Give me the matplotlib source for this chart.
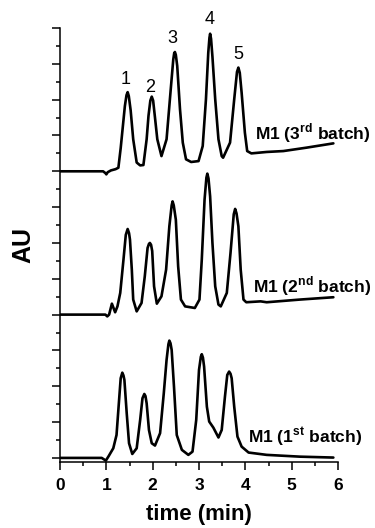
import matplotlib
matplotlib.use("Agg")
import matplotlib.pyplot as plt
from matplotlib.ticker import MultipleLocator

plt.rcParams['font.family'] = ['Liberation Sans', 'DejaVu Sans']
plt.rcParams['mathtext.fontset'] = 'custom'
plt.rcParams['mathtext.rm'] = 'Liberation Sans'
plt.rcParams['mathtext.bf'] = 'Liberation Sans:bold'

# ---- data (time in min, absorbance above each trace's own baseline) ----
t_b3 = [0, 0.93, 0.98, 1.0, 1.03, 1.1, 1.2, 1.26, 1.31, 1.36, 1.40, 1.435, 1.46, 1.485, 1.525,
        1.58, 1.655, 1.73, 1.80, 1.87, 1.91, 1.95, 1.98, 2.01, 2.05, 2.10, 2.19, 2.30, 2.39,
        2.445, 2.465, 2.48, 2.50, 2.53, 2.59, 2.65, 2.72, 2.83, 2.99, 3.08, 3.15, 3.20, 3.225,
        3.24, 3.26, 3.29, 3.35, 3.42, 3.49, 3.52, 3.67, 3.76, 3.82, 3.85, 3.88, 3.92, 3.99,
        4.04, 4.13, 4.46, 4.82, 5.32, 5.9]
a_b3 = [0, 0, -0.1, -0.17, -0.05, 0.05, 0.12, 0.2, 1.3, 2.6, 3.64, 4.25, 4.42, 4.2, 3.4,
        1.79, 0.49, 0.33, 0.35, 1.79, 3.1, 3.95, 4.17, 3.95, 3.0, 1.79, 0.85, 1.79, 4.58,
        6.25, 6.6, 6.66, 6.5, 5.88, 3.46, 1.6, 0.67, 0.52, 0.57, 1.41, 4.02, 6.62, 7.45,
        7.68, 7.4, 6.4, 4.02, 1.79, 0.85, 0.76, 1.6, 4.02, 5.55, 5.79, 5.5, 4.39, 2.16,
        1.13, 1.0, 1.08, 1.13, 1.32, 1.56]

t_b2 = [0, 0.98, 1.02, 1.06, 1.12, 1.19, 1.24, 1.30, 1.37, 1.42, 1.46, 1.49, 1.51, 1.55, 1.58,
        1.655, 1.76, 1.83, 1.89, 1.92, 1.94, 1.965, 1.99, 2.03, 2.09, 2.19, 2.29, 2.36, 2.41,
        2.43, 2.455, 2.50, 2.55, 2.61, 2.70, 2.91, 3.01, 3.06, 3.12, 3.16, 3.18, 3.205, 3.24,
        3.29, 3.35, 3.42, 3.47, 3.60, 3.68, 3.75, 3.78, 3.81, 3.85, 3.90, 3.96, 4.02, 4.33,
        4.46, 5.18, 5.9]
a_b2 = [0, 0, -0.1, 0, 0.61, 0.13, 0.46, 1.21, 3.07, 4.45, 4.78, 4.55, 4.19, 2.51, 0.84,
        0.18, 0.65, 2.14, 3.72, 3.95, 4.0, 3.9, 3.55, 1.58, 0.61, 1.02, 2.51, 4.93, 6.1,
        6.32, 6.1, 5.3, 2.7, 0.84, 0.46, 0.37, 0.84, 3.07, 6.42, 7.65, 7.87, 7.6, 6.6,
        4.0, 1.58, 0.56, 0.46, 1.21, 3.44, 5.6, 5.9, 5.65, 4.93, 2.51, 0.84, 0.69, 0.74,
        0.69, 0.84, 0.97]

t_b1 = [0, 0.9, 0.99, 1.05, 1.15, 1.22, 1.27, 1.31, 1.345, 1.37, 1.39, 1.44, 1.49, 1.56, 1.655,
        1.73, 1.78, 1.82, 1.845, 1.87, 1.92, 1.98, 2.05, 2.16, 2.24, 2.30, 2.34, 2.36, 2.385,
        2.41, 2.46, 2.52, 2.63, 2.77, 2.86, 2.94, 3.00, 3.04, 3.06, 3.085, 3.11, 3.17, 3.22,
        3.31, 3.42, 3.49, 3.56, 3.61, 3.65, 3.68, 3.705, 3.76, 3.83, 3.92, 4.07, 4.46, 5.18,
        5.9]
a_b1 = [0, 0, -0.15, 0.1, 0.54, 1.28, 3.05, 4.45, 4.76, 4.6, 4.35, 2.49, 0.82, 0.22, 0.54,
        2.12, 3.33, 3.57, 3.45, 3.05, 1.56, 0.82, 0.69, 1.38, 3.61, 5.47, 6.35, 6.55, 6.4,
        6.03, 3.98, 1.28, 0.45, 0.17, 0.35, 2.12, 4.91, 5.65, 5.79, 5.6, 5.1, 2.86, 2.03,
        1.69, 1.14, 1.56, 3.42, 4.63, 4.82, 4.7, 4.45, 2.86, 1.19, 0.63, 0.3, 0.17, 0.07,
        0.02]

offsets = [16, 8, 0]
batch_ord = ['rd', 'nd', 'st']
batch_num = ['3', '2', '1']
peak_labels = ['1', '2', '3', '4', '5']
peak_times = [1.41, 1.95, 2.42, 3.24, 3.84]
peak_tops = [5.1, 4.7, 7.4, 8.45, 6.5]

fig = plt.figure(figsize=(3.75, 5.28), dpi=100)
ax = fig.add_axes([60/375, 1-461.5/528, (338-60)/375, (461.5-28)/528])

for t, a, off in zip([t_b3, t_b2, t_b1], [a_b3, a_b2, a_b1], offsets):
    ax.plot(t, [v + off for v in a], color='black', lw=1.9,
            solid_joinstyle='round', solid_capstyle='round')

label_pos = [(4.2, 16 + 2.15), (4.17, 8 + 1.6), (4.05, 1.15)]
for (x, y), n, o in zip(label_pos, batch_num, batch_ord):
    ax.text(x, y, r'M1 (' + n + r'$^{\mathbf{' + o + r'}}$ batch)', fontsize=12.5,
            fontweight='bold', va='center', ha='left', clip_on=False)

for lab, pt, ph in zip(peak_labels, peak_times, peak_tops):
    ax.text(pt, 16 + ph, lab, fontsize=13, ha='center', va='center')

ax.set_xlim(0, 6)
ax.set_ylim(-0.2, 24)
ax.spines['top'].set_visible(False)
ax.spines['right'].set_visible(False)
for s in ['left', 'bottom']:
    ax.spines[s].set_linewidth(1.1)

ax.xaxis.set_major_locator(MultipleLocator(1))
ax.xaxis.set_minor_locator(MultipleLocator(0.5))
ax.yaxis.set_minor_locator(MultipleLocator(1))
ax.set_yticks([v for v in range(0, 25, 2)])
ax.set_yticklabels([])
ax.tick_params(axis='both', which='major', length=6, width=1.1, direction='out')
ax.tick_params(axis='both', which='minor', length=3, width=1.1, direction='out')
ax.tick_params(axis='x', which='major', pad=6, labelsize=12.5)
for lbl in ax.get_xticklabels():
    lbl.set_fontweight('bold')

ax.set_xlabel('time (min)', fontsize=16, fontweight='bold', labelpad=8)
ax.set_ylabel('AU', fontsize=18, fontweight='bold')
ax.yaxis.set_label_coords(-0.09, 0.5)

fig.savefig('out.png', dpi=100)
